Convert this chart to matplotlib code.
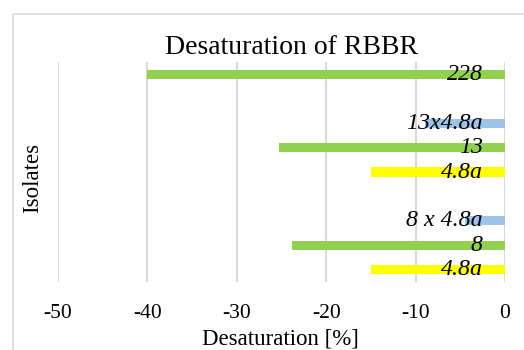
#!/usr/bin/env python

from matplotlib import pyplot as plt
from matplotlib.patches import Rectangle

# Data, top to bottom (empty slots are gaps between groups)
isolates = ['228', '', '13x4.8a', '13', '4.8a', '', '8 x 4.8a', '8', '4.8a']
desaturation = [-40, 0, -9, -25.3, -15, 0, -4.5, -23.8, -15]
bar_colors = ['#92d050', 'none', '#9dc3e6', '#92d050', '#ffff00',
              'none', '#9dc3e6', '#92d050', '#ffff00']
x_ticks = [-50, -40, -30, -20, -10, 0]

plt.rcParams['font.family'] = ['Liberation Serif', 'DejaVu Serif']

fig = plt.figure(figsize=(5.24, 3.5), dpi=100)
W, H = 524, 350

# Chart border (cropped on right and bottom like the reference)
fig.patches.append(Rectangle((13 / W, -0.1), 1.2, 1 - 14 / H + 0.1,
                             transform=fig.transFigure, fill=False,
                             edgecolor='#d9d9d9', linewidth=1.2))

ax = fig.add_axes([58 / W, 1 - 282 / H, (505 - 58) / W, (282 - 62) / H])

positions = list(range(len(isolates)))
ax.barh(positions, desaturation, height=0.37, color=bar_colors, zorder=2)

# Data labels (category names) near the zero end of each bar
for pos, name in zip(positions, isolates):
    if name:
        ax.annotate(name, xy=(0, pos), xytext=(-16, 0), textcoords='offset points',
                    ha='right', va='center', fontsize=17.2, style='italic', zorder=3)

ax.set_xlim(-50, 0)
ax.set_ylim(len(isolates) - 0.5, -0.5)
ax.set_xticks(x_ticks)
ax.set_xticklabels([str(t) for t in x_ticks], fontsize=15.5)
ax.set_yticks([])
ax.tick_params(axis='x', length=0, pad=16)
ax.grid(axis='x', color='#d9d9d9', linewidth=1.5, zorder=0)
ax.set_axisbelow(True)
for spine in ax.spines.values():
    spine.set_visible(False)

fig.text(292 / W, 1 - 48 / H, 'Desaturation of RBBR', ha='center', va='center', fontsize=20)
fig.text(280 / W, 1 - 339 / H, 'Desaturation [%]', ha='center', va='center', fontsize=16.5)
fig.text(33 / W, 1 - 178 / H, 'Isolates', ha='center', va='center', rotation=90, fontsize=16.5)

plt.savefig('out.png', dpi=100)
